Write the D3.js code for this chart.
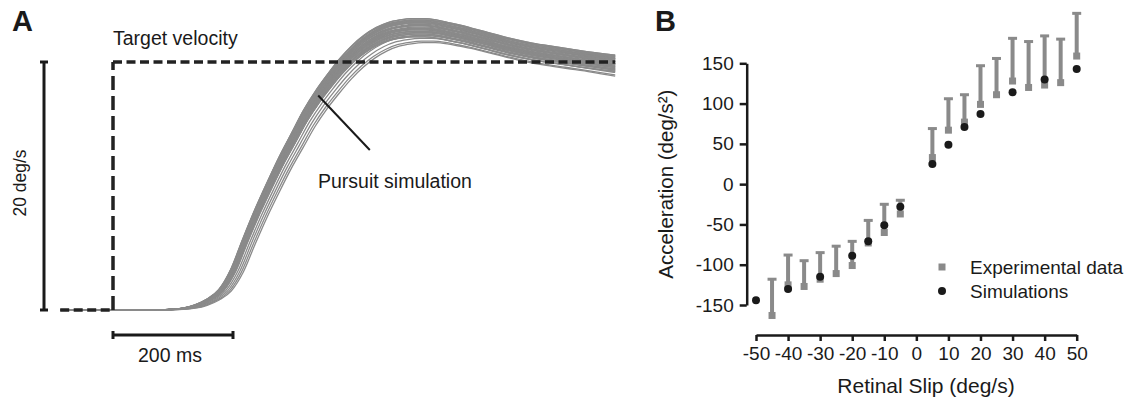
<!DOCTYPE html>
<html lang="en">
<head>
<meta charset="UTF-8">
<title>Pursuit simulation and acceleration vs retinal slip</title>
<script src="https://cdn.jsdelivr.net/npm/d3@7"></script>
<style>
  body { margin: 0; background: #fff; }
  svg { font-family: "Liberation Sans", Arial, sans-serif; }
</style>
</head>
<body>
<div id="chart"></div>
<script>
// ---- Panel A data: mean pursuit trace (ms from target onset, deg/s) ----
const baseTime = [-88, 60, 100, 120, 140, 160, 180, 200, 220, 240, 260, 280, 300, 320, 340, 360, 380, 400, 420, 440, 460, 480, 500, 520, 540, 560, 580, 600, 620, 660, 700, 740, 780, 837];
const baseVel  = [0, 0, 0.05, 0.15, 0.4, 0.85, 1.6, 3.2, 5.6, 7.9, 10.0, 12.0, 13.8, 15.6, 17.1, 18.4, 19.6, 20.6, 21.4, 22.0, 22.4, 22.6, 22.7, 22.7, 22.6, 22.4, 22.2, 21.95, 21.7, 21.2, 20.8, 20.5, 20.2, 19.85];
// per-simulation latency shift (ms) and gain
const traceDelay = [-4, -3, -3, -2, -2, -1, -1, 0, 0, 0, 1, 1, 2, 2, 3, 3, 4, -4, -2, 0, 1, 2, -3, -1, 0, 2, 3, 4, -2, 1, 0, -1, 5, 8, 11, 14, 17, 3];
const traceGain  = [1.02, 1.03, 1.0, 1.025, 0.99, 1.01, 1.035, 1.0, 1.02, 0.98, 1.015, 0.995, 1.03, 0.985, 1.01, 0.975, 1.0, 1.01, 1.035, 1.025, 0.99, 1.005, 0.995, 1.02, 0.97, 1.01, 0.99, 0.98, 1.0, 1.02, 1.03, 0.97, 0.985, 0.975, 0.965, 0.955, 0.95, 1.0];
const targetTime = [-88, 0, 0, 837];
const targetVel  = [0, 0, 20, 20];

// ---- Panel B data ----
const simSlip = [-50, -40, -30, -20, -15, -10, -5, 5, 10, 15, 20, 30, 40, 50];
const simAcc  = [-144, -130, -115, -89, -71, -51, -28, 25, 49, 71, 87, 114, 130, 143];
const expSlip  = [-45, -40, -35, -30, -25, -20, -15, -10, -5, 5, 10, 15, 20, 25, 30, 35, 40, 45, 50];
const expMean  = [-163, -125, -127, -118, -111, -101, -73, -60, -37, 33, 67, 77, 99, 111, 128, 120, 123, 126, 159];
const expUpper = [-118, -88, -95, -85, -77, -71, -45, -25, -20, 69, 106, 111, 147, 156, 181, 177, 184, 180, 212];
const yTicks = [-150, -100, -50, 0, 50, 100, 150];
const xTicks = [-50, -40, -30, -20, -10, 0, 10, 20, 30, 40, 50];

const ink = "#1a1a1a", gray = "#8a8a8a";

const svg = d3.select("#chart").append("svg")
    .attr("width", 1131)
    .attr("height", 403);

// ================= Panel A =================
const xA = d3.scaleLinear().domain([0, 200]).range([113, 233]);
const yA = d3.scaleLinear().domain([0, 20]).range([310, 62]);

const gA = svg.append("g");

gA.append("text")
    .attr("x", 12).attr("y", 31)
    .style("font-size", "29px").style("font-weight", "bold")
    .attr("fill", ink)
    .text("A");

const traceLine = d3.line()
    .x(d => xA(d[0]))
    .y(d => yA(d[1]))
    .curve(d3.curveMonotoneX);

const last = baseTime.length - 1;
traceDelay.forEach((dly, k) => {
  const pts = baseTime.map((t, i) => [
    (i === 0 || i === last) ? t : t + dly,
    baseVel[i] * traceGain[k]
  ]);
  gA.append("path")
      .datum(pts)
      .attr("fill", "none")
      .attr("stroke", gray)
      .attr("stroke-width", 1.3)
      .attr("d", traceLine);
});

// target velocity step (dashed): baseline, step, plateau
const tgt = targetTime.map((t, i) => [t, targetVel[i]]);
const dashes = ["9,4.5", "14,6", "9,4.5"];
for (let i = 0; i < 3; i++) {
  gA.append("line")
      .attr("x1", xA(tgt[i][0])).attr("y1", yA(tgt[i][1]))
      .attr("x2", xA(tgt[i + 1][0])).attr("y2", yA(tgt[i + 1][1]))
      .attr("stroke", "#222")
      .attr("stroke-width", 3.5)
      .attr("stroke-dasharray", dashes[i]);
}

// vertical scale bar: 20 deg/s
const barX = 44;
gA.append("line")
    .attr("x1", barX).attr("x2", barX)
    .attr("y1", yA(0)).attr("y2", yA(20))
    .attr("stroke", ink).attr("stroke-width", 3);
[0, 20].forEach(v => {
  gA.append("line")
      .attr("x1", barX - 4).attr("x2", barX + 4)
      .attr("y1", yA(v)).attr("y2", yA(v))
      .attr("stroke", ink).attr("stroke-width", 3);
});
gA.append("text")
    .attr("transform", `translate(26,${(yA(0) + yA(20)) / 2 - 3}) rotate(-90)`)
    .attr("text-anchor", "middle")
    .style("font-size", "17.5px")
    .attr("fill", ink)
    .text("20 deg/s");

// horizontal scale bar: 200 ms
const barY = 335;
gA.append("line")
    .attr("x1", xA(0)).attr("x2", xA(200))
    .attr("y1", barY).attr("y2", barY)
    .attr("stroke", ink).attr("stroke-width", 3);
[0, 200].forEach(t => {
  gA.append("line")
      .attr("x1", xA(t)).attr("x2", xA(t))
      .attr("y1", barY - 4).attr("y2", barY + 4)
      .attr("stroke", ink).attr("stroke-width", 3);
});
gA.append("text")
    .attr("x", 170).attr("y", 362)
    .attr("text-anchor", "middle")
    .style("font-size", "19.5px")
    .attr("fill", ink)
    .text("200 ms");

gA.append("text")
    .attr("x", 113).attr("y", 45)
    .style("font-size", "19.5px")
    .attr("fill", ink)
    .text("Target velocity");

// annotation pointer
gA.append("line")
    .attr("x1", xA(342)).attr("y1", yA(17.3))
    .attr("x2", xA(428)).attr("y2", yA(12.9))
    .attr("stroke", ink).attr("stroke-width", 2);
gA.append("text")
    .attr("x", 318).attr("y", 188)
    .style("font-size", "19.5px")
    .attr("fill", ink)
    .text("Pursuit simulation");

// ================= Panel B =================
const xB = d3.scaleLinear().domain([-50, 50]).range([756, 1076.7]);
const yB = d3.scaleLinear().domain([-150, 150]).range([305, 63.3]);

const gB = svg.append("g");

gB.append("text")
    .attr("x", 655).attr("y", 31)
    .style("font-size", "29px").style("font-weight", "bold")
    .attr("fill", ink)
    .text("B");

const yAxis = gB.append("g")
    .attr("transform", "translate(746.7,0)")
    .call(d3.axisLeft(yB).tickValues(yTicks).tickFormat(d => String(d))
      .tickSize(7).tickSizeOuter(0).tickPadding(6));
const xAxis = gB.append("g")
    .attr("transform", "translate(0,335)")
    .call(d3.axisBottom(xB).tickValues(xTicks).tickFormat(d => String(d))
      .tickSize(6).tickSizeOuter(0).tickPadding(6));

[yAxis, xAxis].forEach(ax => {
  ax.select(".domain").attr("stroke", ink).attr("stroke-width", 2.5);
  ax.selectAll(".tick line").attr("stroke", ink).attr("stroke-width", 2.5);
  ax.selectAll(".tick text")
      .attr("fill", ink)
      .style("font-size", "19px")
      .style("font-family", "\"Liberation Sans\", Arial, sans-serif");
});

gB.append("text")
    .attr("transform", `translate(673,${yB(0)}) rotate(-90)`)
    .attr("text-anchor", "middle")
    .style("font-size", "20.5px")
    .attr("fill", ink)
    .text("Acceleration (deg/s²)");

gB.append("text")
    .attr("x", 926).attr("y", 393)
    .attr("text-anchor", "middle")
    .style("font-size", "21px")
    .attr("fill", ink)
    .text("Retinal Slip (deg/s)");

// experimental data: one-sided error bars + squares
const exp = expSlip.map((s, i) => ({slip: s, mean: expMean[i], upper: expUpper[i]}));
gB.selectAll(".ebar")
    .data(exp)
    .enter().append("line")
    .attr("class", "ebar")
    .attr("x1", d => xB(d.slip)).attr("x2", d => xB(d.slip))
    .attr("y1", d => yB(d.mean)).attr("y2", d => yB(d.upper))
    .attr("stroke", gray).attr("stroke-width", 4);
gB.selectAll(".ecap")
    .data(exp)
    .enter().append("line")
    .attr("class", "ecap")
    .attr("x1", d => xB(d.slip) - 4.5).attr("x2", d => xB(d.slip) + 4.5)
    .attr("y1", d => yB(d.upper)).attr("y2", d => yB(d.upper))
    .attr("stroke", gray).attr("stroke-width", 3);
gB.selectAll(".esq")
    .data(exp)
    .enter().append("rect")
    .attr("class", "esq")
    .attr("x", d => xB(d.slip) - 3.5).attr("y", d => yB(d.mean) - 3.5)
    .attr("width", 7).attr("height", 7)
    .attr("fill", gray);

// simulations
gB.selectAll(".sim")
    .data(simSlip.map((s, i) => ({slip: s, acc: simAcc[i]})))
    .enter().append("circle")
    .attr("class", "sim")
    .attr("cx", d => xB(d.slip)).attr("cy", d => yB(d.acc))
    .attr("r", 4)
    .attr("fill", ink);

// legend
const legend = gB.append("g").attr("transform", "translate(942,0)");
legend.append("rect")
    .attr("x", -3.5).attr("y", 267 - 3.5).attr("width", 7).attr("height", 7)
    .attr("fill", gray);
legend.append("text")
    .attr("x", 28).attr("y", 274)
    .style("font-size", "19px").attr("fill", ink)
    .text("Experimental data");
legend.append("circle")
    .attr("cx", 0).attr("cy", 291).attr("r", 4)
    .attr("fill", ink);
legend.append("text")
    .attr("x", 28).attr("y", 298)
    .style("font-size", "19px").attr("fill", ink)
    .text("Simulations");
</script>
</body>
</html>
